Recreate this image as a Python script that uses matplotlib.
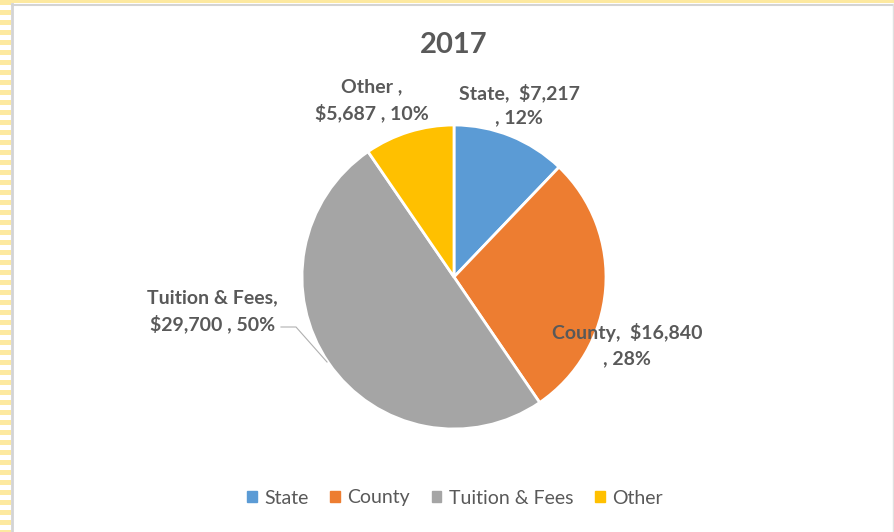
import matplotlib.pyplot as plt
from matplotlib.patches import Rectangle

plt.rcParams['font.family'] = ['Lato', 'DejaVu Sans']

labels = ["State", "County", "Tuition & Fees", "Other"]
values = [7217, 16840, 29700, 5687]
pcts = ["12%", "28%", "50%", "10%"]
colors = ["#5b9bd5", "#ed7d31", "#a5a5a5", "#ffc000"]

W, H = 895, 532
fig = plt.figure(figsize=(W / 100, H / 100), dpi=100)
ax = fig.add_axes([0, 0, 1, 1])

# yellow striped frame (left + top)
for i in range(0, H, 10):
    ax.add_patch(Rectangle((0, H - i - 5), 11, 5, color="#fde9a0", lw=0))
ax.add_patch(Rectangle((0, H - 3), W, 3, color="#fde9a0", lw=0))
ax.plot([12, 12], [0, H - 4], color="#d4d4d4", lw=2)
ax.plot([12, W], [H - 4.5, H - 4.5], color="#d4d4d4", lw=1.5)
ax.plot([W - 2, W - 2], [0, H - 4], color="#e0e0e0", lw=1)

cx, cy, r = 454, H - 277, 152
wedges, _ = ax.pie(values, colors=colors, startangle=90, counterclock=False,
                   center=(cx, cy), radius=r, frame=True,
                   wedgeprops=dict(edgecolor="white", linewidth=2))
ax.set_xlim(0, W)
ax.set_ylim(0, H)
ax.set_aspect('equal')
ax.axis('off')

tc = "#595959"
ax.text(454, H - 45, "2017", ha='center', va='center', fontsize=21,
        fontweight='bold', color=tc)

lab_kw = dict(fontsize=14, fontweight='bold', color=tc, linespacing=1.55)
ax.text(519, H - 105, f"{labels[0]},  ${values[0]:,}\n, {pcts[0]}",
        ha='center', va='center', **lab_kw)
ax.text(627, H - 345, f"{labels[1]},  ${values[1]:,}\n, {pcts[1]}",
        ha='center', va='center', **lab_kw)
ax.text(278, H - 311, f"{labels[2]},\n${values[2]:,} , {pcts[2]}",
        ha='right', va='center', multialignment='center', **lab_kw)
ax.text(372, H - 100, f"{labels[3]} ,\n${values[3]:,} , {pcts[3]}",
        ha='center', va='center', **lab_kw)

# leader line for tuition label
ax.plot([281, 296, 327], [H - 327, H - 327, H - 362], color="#b0b0b0", lw=0.8)

handles = [Rectangle((0, 0), 1, 1, color=c) for c in colors]
fig.legend(handles, labels, loc='center', bbox_to_anchor=(455 / W, 1 - 498 / H),
           ncol=4, frameon=False, fontsize=14, handlelength=0.5, handleheight=0.5,
           handletextpad=0.4, columnspacing=1.1, labelcolor=tc)

fig.savefig("out.png", dpi=100)
